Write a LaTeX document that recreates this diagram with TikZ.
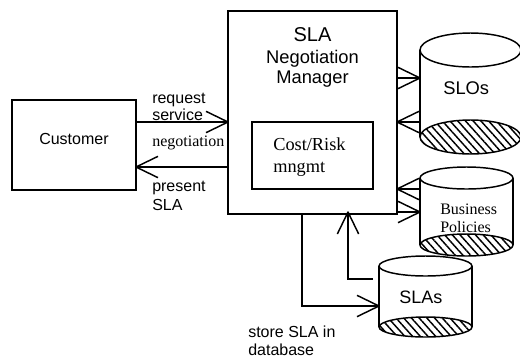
\documentclass[tikz,border=0pt]{standalone}
\usepackage{fontspec}
\setmainfont{Liberation Sans}
\newfontfamily\serf{Liberation Serif}
\usetikzlibrary{arrows.meta,patterns.meta}
\pgfdeclarearrow{
	name=openhead,
	setup code={\pgfarrowssettipend{0pt}\pgfarrowssetlineend{-1pt}\pgfarrowssetbackend{-16.5pt}\pgfarrowshullpoint{0pt}{0pt}\pgfarrowshullpoint{-16.5pt}{8pt}\pgfarrowshullpoint{-16.5pt}{-8pt}},
	drawing code={\pgfsetdash{}{0pt}\pgfsetlinewidth{1.1pt}\pgfsetroundjoin
		\pgfpathmoveto{\pgfpoint{-16.5pt}{8pt}}\pgfpathlineto{\pgfpointorigin}\pgfpathlineto{\pgfpoint{-16.5pt}{-8pt}}\pgfusepathqstroke}
}
\tikzset{
	boxn/.style={draw,line width=1.1pt,outer sep=0pt,inner sep=0pt},
	link/.style={line width=1.1pt,-{openhead}},
	lab/.style={anchor=base west,inner sep=0pt,font=\fontsize{12}{14}\selectfont},
	mid/.style={anchor=base,inner sep=0pt,font=\fontsize{13.75}{16}\selectfont},
	rom/.style={lab,font=\serf\fontsize{12}{14}\selectfont},
	hatch/.style={pattern={Lines[angle=-48,distance=4.3pt,line width=1.1pt]}}
}
\begin{document}
\begin{tikzpicture}[x=0.75pt,y=-0.75pt]
	\useasboundingbox (0,0) rectangle (520,358);
	\node[boxn,minimum width=93pt,minimum height=67.5pt] (customer) at (74,145) {};
	\node[boxn,minimum width=126.75pt,minimum height=152.25pt] (manager) at (312.5,112.5) {};
	\node[boxn,minimum width=90.75pt,minimum height=50.25pt] (costrisk) at (312.5,155.5) {};
	% data stores
	\foreach \nm/\xm/\rx/\ya/\yb/\ry in {slos/470.5/50.5/50/137/17,policies/466.5/46.5/178/245/11,slas/425.5/46.5/266/327/10}{
		\coordinate (\nm) at (\xm-\rx,\ya);
		\fill[white] (\xm-\rx,\ya) rectangle (\xm+\rx,\yb);
		\draw[line width=1.1pt] (\xm-\rx,\ya) -- (\xm-\rx,\yb) (\xm+\rx,\ya) -- (\xm+\rx,\yb);
		\draw[line width=1.1pt,fill=white] (\xm,\ya) ellipse [x radius=\rx,y radius=\ry];
		\fill[white] (\xm,\yb) ellipse [x radius=\rx,y radius=\ry];
		\draw[line width=1.1pt,hatch] (\xm,\yb) ellipse [x radius=\rx,y radius=\ry];
	}
	% arrows
	\draw[link] (customer.east |- 0,122) -- (manager.west |- 0,122);
	\draw[link] (manager.west |- 0,167) -- (customer.east |- 0,167);
	\draw[link] (manager.east |- 0,78) -- (slos |- 0,78);
	\draw[link] (slos |- 0,122) -- (manager.east |- 0,122);
	\draw[link] (policies |- 0,189) -- (manager.east |- 0,189);
	\draw[link] (manager.east |- 0,212) -- (policies |- 0,212);
	\coordinate (fromsla) at (373,279);
	\draw[link,shorten >=-1.5pt] (fromsla) -| (348,0 |- manager.south);
	\coordinate (tosla) at (302,306);
	\draw[link] (manager.south -| tosla) |- (slas |- tosla);
	% labels
	\node[lab] (reqa) at (152,103) {request};
	\node[lab] (reqb) at (152,120) {service};
	\node[rom] (neg) at (152,146) {negotiation};
	\node[lab] (prea) at (152,191) {present};
	\node[lab] (preb) at (152,210) {SLA};
	\node[lab] (cust) at (39,144) {Customer};
	\node[anchor=base,inner sep=0pt,font=\fontsize{15}{18}\selectfont] (titlea) at (312.5,41) {SLA};
	\node[mid] (titleb) at (312.5,63) {Negotiation};
	\node[mid] (titlec) at (312.5,83) {Manager};
	\node[lab,font=\serf\fontsize{13.75}{16}\selectfont] (costa) at (273,150) {Cost/Risk};
	\node[lab,font=\serf\fontsize{13.75}{16}\selectfont] (costb) at (273,172) {mngmt};
	\node[lab,font=\fontsize{13.75}{16}\selectfont] (slotxt) at (443,94) {SLOs};
	\node[rom] (busa) at (440,214) {Business};
	\node[rom] (busb) at (440,232) {Policies};
	\node[lab,font=\fontsize{13.5}{16}\selectfont] (slatxt) at (399,303) {SLAs};
	\node[lab] (stoa) at (248,337) {store SLA in};
	\node[lab] (stob) at (248,355) {database};
\end{tikzpicture}
\end{document}
